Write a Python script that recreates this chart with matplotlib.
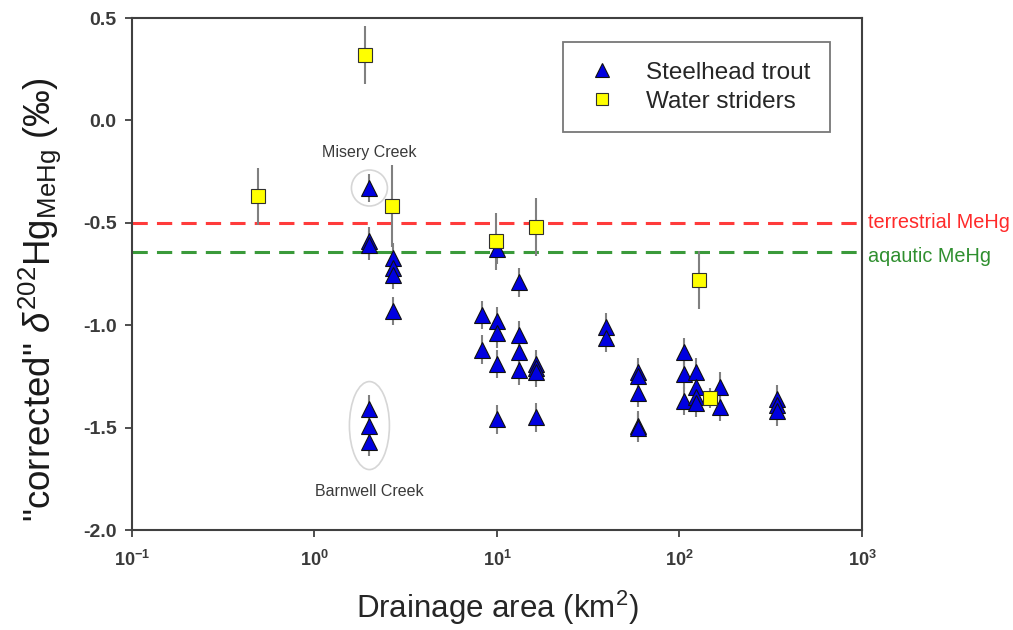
import numpy as np
import matplotlib
matplotlib.use("Agg")
import matplotlib.pyplot as plt
from matplotlib.patches import Ellipse
from matplotlib.ticker import FuncFormatter, LogLocator, NullLocator

plt.rcParams['font.family'] = ['Liberation Sans', 'DejaVu Sans']
plt.rcParams['mathtext.fontset'] = 'custom'
plt.rcParams['mathtext.rm'] = 'Liberation Sans'
plt.rcParams['mathtext.it'] = 'Liberation Sans:italic'
plt.rcParams['mathtext.bf'] = 'Liberation Sans:bold'

# ---- data ----
trout_area = [2.0, 2.0, 2.0, 2.0, 2.0, 2.0,
              2.7, 2.7, 2.7, 2.7,
              10.0, 13.2, 8.3, 8.3,
              10.0, 10.0, 10.0, 10.0,
              13.2, 13.2, 13.2,
              16.4, 16.4, 16.4, 16.4,
              39.5, 39.5,
              59.0, 59.0, 59.0, 59.0, 59.0,
              106, 106, 106,
              123, 123, 123, 123,
              167, 167,
              342, 342, 342]
trout_d202 = [-0.33, -0.59, -0.61, -1.41, -1.49, -1.57,
              -0.67, -0.72, -0.755, -0.93,
              -0.63, -0.79, -0.95, -1.12,
              -0.98, -1.04, -1.19, -1.46,
              -1.05, -1.13, -1.22,
              -1.19, -1.21, -1.23, -1.45,
              -1.01, -1.06,
              -1.23, -1.25, -1.33, -1.49, -1.50,
              -1.13, -1.24, -1.37,
              -1.23, -1.30, -1.35, -1.38,
              -1.30, -1.40,
              -1.36, -1.39, -1.42]
trout_err = [0.07] * len(trout_d202)

strider_area = [0.49, 1.9, 2.65, 9.9, 16.4, 128, 147]
strider_d202 = [-0.37, 0.32, -0.42, -0.59, -0.52, -0.78, -1.355]
strider_err = [0.14, 0.14, 0.20, 0.14, 0.14, 0.14, 0.05]

terrestrial_mehg = -0.50
aquatic_mehg = -0.643

misery_idx = [0]
barnwell_idx = [3, 4, 5]

# ---- figure ----
fig = plt.figure(figsize=(10.13, 6.30), dpi=100)
ax = fig.add_axes([0.1303, 0.1587, 0.7206, 0.8127])

ax.axhline(terrestrial_mehg, color='#ff3b3b', ls=(0, (5, 3)), lw=2.2, zorder=1)
ax.axhline(aquatic_mehg, color='#3a9a3a', ls=(0, (5, 3)), lw=2.2, zorder=1)

ax.errorbar(trout_area, trout_d202, yerr=trout_err, fmt='none',
            ecolor='#808080', elinewidth=1.5, capsize=0, zorder=2)
ax.errorbar(strider_area, strider_d202, yerr=strider_err, fmt='none',
            ecolor='#808080', elinewidth=1.5, capsize=0, zorder=2)
ax.plot(trout_area, trout_d202, ls='none', marker='^', ms=11.5,
        mfc='#0000e0', mec='#101010', mew=0.8, zorder=3, label='Steelhead trout')
ax.plot(strider_area, strider_d202, ls='none', marker='s', ms=10.5,
        mfc='#ffff00', mec='#303030', mew=0.8, zorder=4, label='Water striders')

ax.set_xscale('log')
ax.set_xlim(0.1, 1000)
ax.set_ylim(-2.0, 0.5)
ax.xaxis.set_major_locator(LogLocator(base=10, numticks=10))
ax.xaxis.set_minor_locator(NullLocator())
ax.set_yticks([0.5, 0.0, -0.5, -1.0, -1.5, -2.0])
ax.yaxis.set_major_formatter(FuncFormatter(lambda v, p: ('%.1f' % v).replace('\u2212', '-')))
ax.xaxis.set_major_formatter(FuncFormatter(
    lambda v, p: r'$\mathbf{10^{%d}}$' % int(round(np.log10(v)))))

for s in ax.spines.values():
    s.set_color('#404040')
    s.set_linewidth(1.5)
ax.tick_params(axis='both', direction='out', length=5, width=1.3, color='#404040')
ax.tick_params(axis='y', labelsize=14, labelcolor='#3a3a3a', pad=6)
ax.tick_params(axis='x', labelsize=13, labelcolor='#3a3a3a', pad=9)
for lab in ax.get_yticklabels():
    lab.set_fontweight('bold')

ax.set_xlabel('Drainage area (km$^2$)', fontsize=22.5, color='#262626', labelpad=14)
ax.set_ylabel('"corrected" $\\delta^{202}$Hg$_{\\mathrm{MeHg}}$ (\u2030)', fontsize=26.5,
              color='#1a1a1a')
ax.yaxis.set_label_coords(-0.094, 0.449)

leg = ax.legend(loc='upper right', bbox_to_anchor=(0.956, 0.953), borderaxespad=0,
                fontsize=17.5, frameon=True, fancybox=False, edgecolor='#555555',
                handletextpad=1.0, borderpad=0.8, labelspacing=0.3, handlelength=1.6,
                numpoints=1, markerscale=0.85)
leg.get_frame().set_linewidth(1.3)
for t in leg.get_texts():
    t.set_color('#262626')

# ellipses around groups (computed from data positions)
fig.canvas.draw()
def to_axes(x, y):
    return ax.transAxes.inverted().transform(ax.transData.transform((x, y)))

mx = np.mean([trout_area[i] for i in misery_idx])
my = np.mean([trout_d202[i] for i in misery_idx])
cx, cy = to_axes(mx, my)
ax.add_patch(Ellipse((cx, cy), 36 / 730, 36 / 512, transform=ax.transAxes,
                     fill=False, edgecolor='#d6d6d6', lw=1.2, zorder=1))
ax.text(cx, cy + 28 / 512, 'Misery Creek', transform=ax.transAxes, ha='center',
        va='bottom', fontsize=11.5, color='#3a3a3a')

bx = np.mean([trout_area[i] for i in barnwell_idx])
by = np.mean([trout_d202[i] for i in barnwell_idx])
cx, cy = to_axes(bx, by)
ax.add_patch(Ellipse((cx, cy), 40 / 730, 88 / 512, transform=ax.transAxes,
                     fill=False, edgecolor='#d6d6d6', lw=1.2, zorder=1))
ax.text(cx, cy - 58 / 512, 'Barnwell Creek', transform=ax.transAxes, ha='center',
        va='top', fontsize=11.5, color='#3a3a3a')

ax.text(1.008, terrestrial_mehg, 'terrestrial MeHg', transform=ax.get_yaxis_transform(),
        color='#ff2a2a', fontsize=14.3, va='center', ha='left')
ax.text(1.008, aquatic_mehg - 0.02, 'aqautic MeHg', transform=ax.get_yaxis_transform(),
        color='#2f8f2f', fontsize=14.3, va='center', ha='left')

fig.savefig('out.png', dpi=100)
